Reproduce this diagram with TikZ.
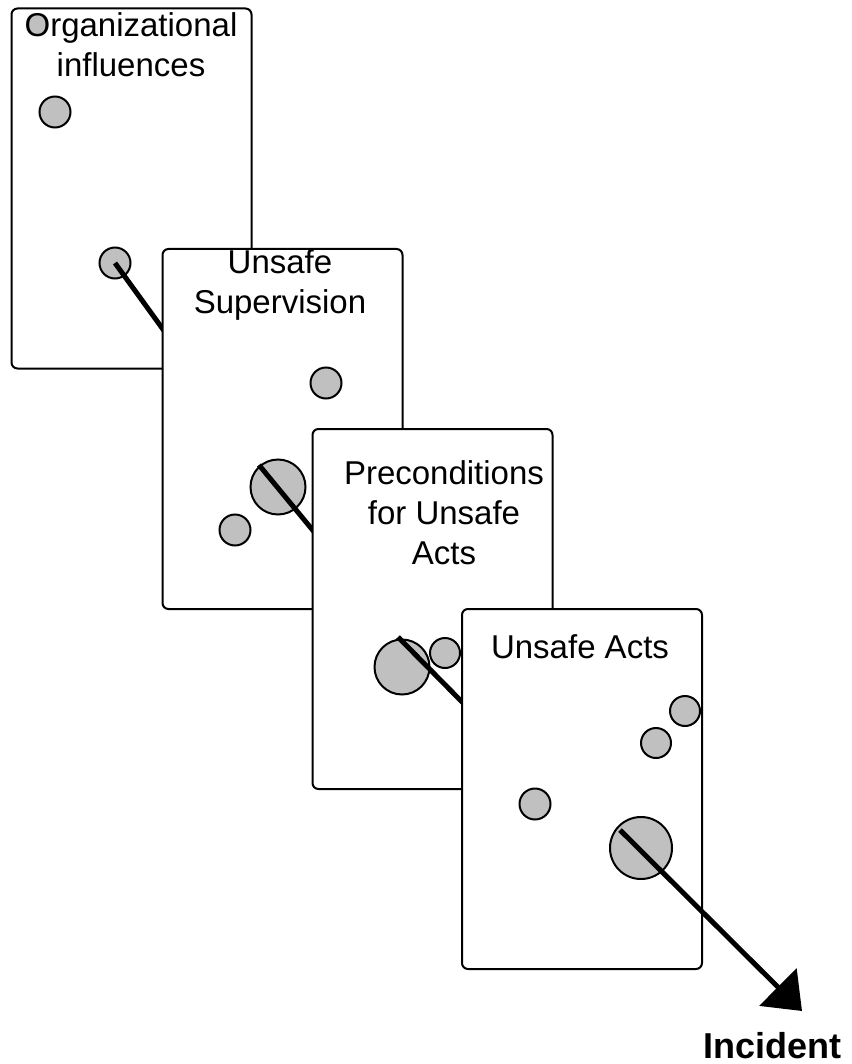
\documentclass[tikz,border=0pt]{standalone}
\usepackage{fontspec}
\setmainfont{Liberation Sans}
\usetikzlibrary{arrows.meta}
\definecolor{holefill}{RGB}{192,192,192}
\begin{document}
\begin{tikzpicture}[x=1pt,y=-1pt,
  panel/.style={draw=black, line width=2pt, fill=white, rounded corners=6pt,
    minimum width=240pt, minimum height=360pt, anchor=north west, inner sep=0pt},
  hole/.style={circle, draw=black, line width=2pt, fill=holefill, inner sep=0pt,
    minimum size=#1},
  paneltitle/.style={anchor=base, align=center, inner sep=0pt,
    font=\fontsize{33pt}{40pt}\selectfont},
  trajectory/.style={line width=5pt, line cap=butt}
]
\useasboundingbox (0,0) rectangle (851,1064);

% --- layer 1: organizational influences
\node[panel] (p1) at (10.5,7.5) {};
% the first letter of the title doubles as a hole: fill its counter
\node[hole=20pt, draw=none] (h11) at (37.2,25.4) {};
\node[hole=31pt] (h12) at (55,112) {};
\node[hole=31pt] (h13) at (115,263) {};
% base anchor of a multi-line title sits on its last line
\node[paneltitle] (t1) at (131,77) {Organizational\\influences};
\coordinate (e1) at (170,339);
\draw[trajectory] (h13.center) -- (e1);

% --- layer 2: unsafe supervision
\node[panel] (p2) at (161.5,248) {};
\node[hole=31pt] (h21) at (326,383) {};
\node[hole=55pt] (h22) at (278,487) {};
\node[hole=31pt] (h23) at (235,530) {};
\node[paneltitle] (t2) at (280,313) {Unsafe\\Supervision};
\coordinate (s2) at (259,465);
\coordinate (e2) at (320,539);
\draw[trajectory] (s2) -- (e2);

% --- layer 3: preconditions for unsafe acts
\node[panel] (p3) at (311.5,428) {};
\node[hole=55pt] (h31) at (402,667) {};
\node[hole=30pt] (h32) at (445,653) {};
\node[paneltitle] (t3) at (444,564) {Preconditions\\for Unsafe\\Acts};
\coordinate (s3) at (398,637);
\coordinate (e3) at (468,708);
\draw[trajectory] (s3) -- (e3);

% --- layer 4: unsafe acts
\node[panel] (p4) at (461,608) {};
\node[hole=30pt] (h41) at (685,711) {};
\node[hole=30pt] (h42) at (656,743) {};
\node[hole=31pt] (h43) at (535,804) {};
\node[hole=62pt] (h44) at (641,848) {};
\node[paneltitle] (t4) at (580,658) {Unsafe Acts};
\coordinate (s4) at (620,830);
\coordinate (tip) at (802,1011);
\draw[trajectory, -{Triangle[length=34pt,width=52pt]}] (s4) -- (tip);

\node[anchor=base, inner sep=0pt, font=\bfseries\fontsize{36pt}{40pt}\selectfont]
  (incident) at (772,1058) {Incident};
\end{tikzpicture}
\end{document}
